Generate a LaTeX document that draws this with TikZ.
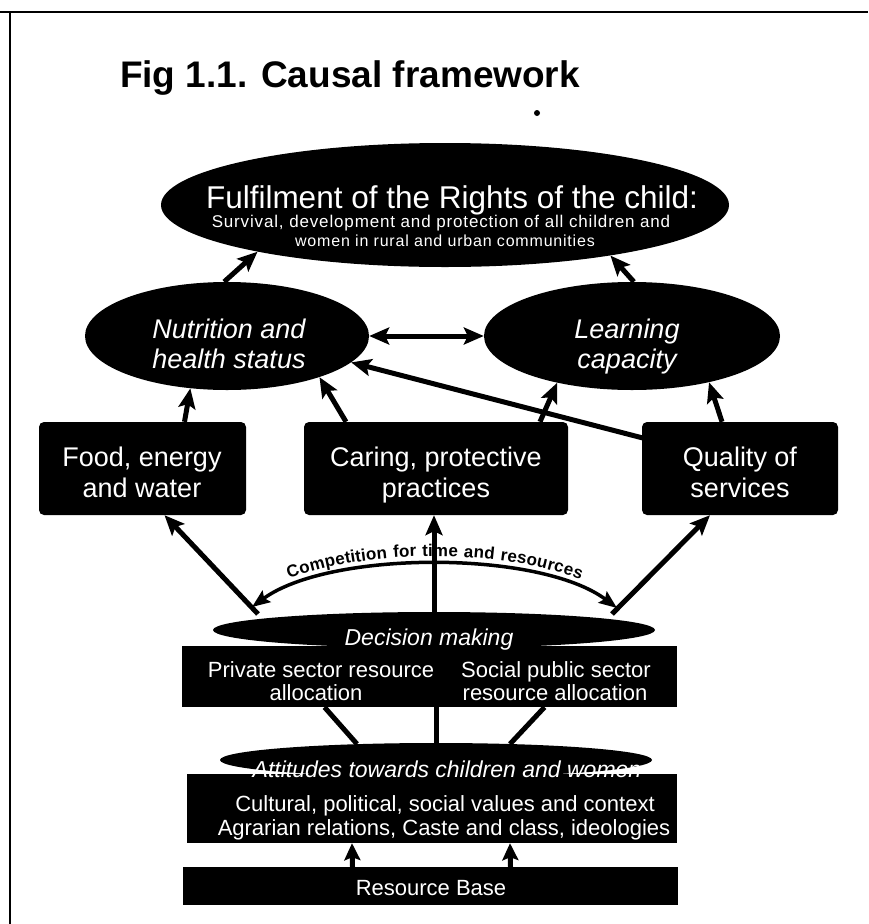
\documentclass[tikz,border=0pt]{standalone}
\usepackage{fontspec}
\setmainfont{Liberation Sans}
\newfontfamily\spaced[LetterSpace=5]{Liberation Sans}
\newfontfamily\spacedb[LetterSpace=6]{Liberation Sans}
\usetikzlibrary{arrows.meta,calc,decorations.text,shapes.geometric}
\begin{document}
\begin{tikzpicture}[x=1pt,y=-1pt,
  ell/.style={ellipse, fill=black, draw=none, inner sep=0pt},
  blk/.style={rectangle, fill=black, rounded corners=5pt, inner sep=0pt},
  wt/.style={text=white, inner sep=0pt, anchor=base},
  arr/.style={line width=5pt, -{Stealth[length=20pt,width=17pt,inset=4pt]}},
  sarr/.style={line width=5pt, -{Stealth[length=17pt,width=16pt,inset=3pt]}},
  darr/.style={line width=5pt, {Stealth[length=20pt,width=17pt,inset=4pt]}-{Stealth[length=20pt,width=17pt,inset=4pt]}},
  ln/.style={line width=5pt},
]
\useasboundingbox (0,0) rectangle (868,924);
\fill[white] (0,0) rectangle (868,924);
\draw[line width=2.5pt] (0,12) -- (868,12);
\draw[line width=2.5pt] (10,12) -- (10,924);

\node[anchor=base, inner sep=0pt] (title) at (350,87) {\fontsize{37}{40}\selectfont\bfseries Fig 1.1. Causal framework};
\fill (537,113) circle (3);

% shapes
\node[ell, minimum width=568, minimum height=124] (top) at (445,205) {};
\node[ell, minimum width=284, minimum height=108] (nut) at (227,336) {};
\node[ell, minimum width=296, minimum height=108] (lrn) at (632,336) {};
\node[blk, minimum width=207, minimum height=93] (food) at (142.5,468.5) {};
\node[blk, minimum width=264, minimum height=93] (car) at (436,468.5) {};
\node[blk, minimum width=196, minimum height=93] (qual) at (740,468.5) {};
\node[ell, minimum width=442, minimum height=36] (dec) at (434,630) {};
\node[blk, rounded corners=0pt, minimum width=495, minimum height=61] (priv) at (429.5,676.5) {};
\node[ell, minimum width=432, minimum height=34] (att) at (436,760) {};
\node[blk, rounded corners=0pt, minimum width=490, minimum height=69] (cult) at (432,808.5) {};
\node[blk, rounded corners=0pt, minimum width=495, minimum height=38] (res) at (430.5,886) {};

% arrows
\draw[arr] (nut.93) -- (top.-166);
\draw[arr] (lrn.88) -- (top.-17);
\draw[darr] (nut.east) -- (nut.east -| lrn.west);
\draw[arr] ($(food.north)+(42,0)$) -- (nut.-125);
\draw[arr] ($(car.north)+(-90,0)$) -- (nut.-24);
\draw[arr] ($(car.north)+(104,0)$) -- (lrn.-148);
\draw[arr] ($(qual.north)+(-18,0)$) -- (lrn.-31);
\draw[arr] ($(qual.north west)+(8,18)$) -- (nut.-12);
\draw[arr] ($(dec.center)+(-176,-16)$) -- ($(food.south)+(22,0)$);
\draw[arr] (dec.north) -- (dec.north |- car.south);
\draw[arr] ($(dec.center)+(178,-16)$) -- ($(qual.south)+(-30,0)$);

\coordinate (cl) at (252,607);
\coordinate (cr) at (617,608);
\draw[line width=3.5pt, {Stealth[length=18pt,width=14pt,inset=3pt]}-{Stealth[length=18pt,width=14pt,inset=3pt]}] (cl) .. controls (330,550) and (540,550) .. (cr);
\path[decorate, decoration={text along path, text align=center, raise=8pt,
  text={|\spacedb\bfseries\fontsize{17}{20}\selectfont|Competition for time and resources}}]
  (cl) .. controls (330,550) and (540,550) .. (cr);

\draw[ln] ($(att.center)+(-79,-16)$) -- ($(priv.south)+(-105,0)$);
\draw[ln] (att.north) -- (att.north |- priv.south);
\draw[ln] ($(att.center)+(74,-16)$) -- ($(priv.south)+(115,0)$);

\draw[sarr] ($(res.north)+(-78,0)$) -- ($(cult.south)+(-80,0)$);
\draw[sarr] ($(res.north)+(80,0)$) -- ($(cult.south)+(78,0)$);

% texts
\node[wt] (tful) at (452,208) {\fontsize{31.5}{34}\selectfont Fulfilment of the Rights of the child:};
\node[wt] (tsur1) at (441,227) {\spaced\fontsize{17}{19}\selectfont Survival, development and protection of all children and};
\node[wt] (tsur2) at (445,246) {\spaced\fontsize{16}{19}\selectfont women in rural and urban communities};

\node[wt] (tn1) at (229,338) {\itshape\fontsize{27}{30}\selectfont Nutrition and};
\node[wt] (tn2) at (229,368) {\itshape\fontsize{27}{30}\selectfont health status};
\node[wt] (tl1) at (627,338) {\itshape\fontsize{27}{30}\selectfont Learning};
\node[wt] (tl2) at (627,368) {\itshape\fontsize{27}{30}\selectfont capacity};

\node[wt] (tf1) at (142,466) {\fontsize{27}{30}\selectfont Food, energy};
\node[wt] (tf2) at (142,497) {\fontsize{27}{30}\selectfont and water};
\node[wt] (tc1) at (436,466) {\fontsize{27}{30}\selectfont Caring, protective};
\node[wt] (tc2) at (436,497) {\fontsize{27}{30}\selectfont practices};
\node[wt] (tq1) at (740,466) {\fontsize{27}{30}\selectfont Quality of};
\node[wt] (tq2) at (740,497) {\fontsize{27}{30}\selectfont services};

\node[wt] (tdec) at (429,645) {\itshape\fontsize{23}{26}\selectfont Decision making};
\node[wt] (tp1) at (321,677) {\fontsize{22}{24}\selectfont Private sector resource};
\node[wt] (tp2) at (316,700) {\fontsize{22}{24}\selectfont allocation};
\node[wt] (ts1) at (556,677) {\fontsize{22}{24}\selectfont Social public sector};
\node[wt] (ts2) at (555,700) {\fontsize{22}{24}\selectfont resource allocation};

\node[wt] (tatt) at (447,777) {\itshape\fontsize{23}{26}\selectfont Attitudes towards children and women};
\node[wt] (tcu1) at (445,811) {\fontsize{22}{24}\selectfont Cultural, political, social values and context};
\node[wt] (tcu2) at (444,835) {\fontsize{22}{24}\selectfont Agrarian relations, Caste and class, ideologies};
\node[wt] (tres) at (431,895) {\fontsize{22}{24}\selectfont Resource Base};
\end{tikzpicture}
\end{document}
